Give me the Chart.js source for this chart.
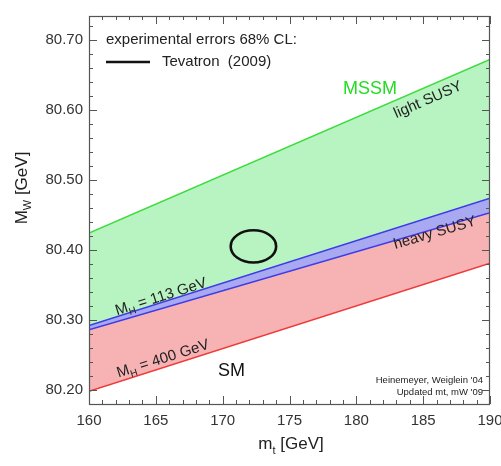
<!DOCTYPE html>
<html>
<head>
<meta charset="utf-8">
<script src="https://cdn.jsdelivr.net/npm/chart.js@4.4.1/dist/chart.umd.min.js"></script>
<style>
html,body{margin:0;padding:0;background:#fff;}
#wrap{width:501px;height:466px;}
</style>
</head>
<body>
<div id="wrap"><canvas id="c" width="501" height="466"></canvas></div>
<script>
// ---- data ----
const mt = [160, 190];                       // top-quark mass range (GeV)
const lightSUSY = [80.424, 80.672];          // MSSM upper edge
const mh113 = [80.292, 80.474];              // SM, M_H = 113 GeV
const heavySUSY = [80.286, 80.453];          // MSSM lower edge
const mh400 = [80.198, 80.381];              // SM, M_H = 400 GeV
const tevCenter = [172.3, 80.405];           // Tevatron (2009) mt, MW
const tevError = [1.7, 0.023];               // 68% CL half-widths
const xTicks = [160, 165, 170, 175, 180, 185, 190];
const yTicks = [80.20, 80.30, 80.40, 80.50, 80.60, 80.70];

const FONT = '"Liberation Sans", Arial, Helvetica, sans-serif';
const pts = arr => mt.map((x, i) => ({x: x, y: arr[i]}));

const annot = {
  id: 'annot',
  afterDatasetsDraw(chart) {
    const ctx = chart.ctx, xs = chart.scales.x, ys = chart.scales.y;
    const a = chart.chartArea;
    const px = v => xs.getPixelForValue(v), py = v => ys.getPixelForValue(v);
    ctx.save();
    // Tevatron ellipse
    ctx.beginPath();
    const cx = px(tevCenter[0]), cy = py(tevCenter[1]);
    const rx = Math.abs(px(tevCenter[0] + tevError[0]) - cx);
    const ry = Math.abs(py(tevCenter[1] + tevError[1]) - cy);
    ctx.ellipse(cx, cy, rx, ry, 0, 0, Math.PI * 2);
    ctx.lineWidth = 2.6; ctx.strokeStyle = '#111'; ctx.stroke();

    // frame
    ctx.lineWidth = 1.2; ctx.strokeStyle = '#555';
    ctx.strokeRect(a.left + 0.5, a.top + 0.5, a.right - a.left - 1, a.bottom - a.top);
    // inward ticks on all four sides
    ctx.lineWidth = 1;
    ctx.beginPath();
    for (let k = 160; k <= 190; k++) {
      const L = (k % 5 === 0) ? 8 : 4, x = Math.round(px(k)) + 0.5;
      ctx.moveTo(x, a.bottom); ctx.lineTo(x, a.bottom - L);
      ctx.moveTo(x, a.top); ctx.lineTo(x, a.top + L);
    }
    for (let k = 9; k <= 36; k++) {
      const v = 80 + k * 0.02;
      if (v < ys.min || v > ys.max) continue;
      const L = (k % 5 === 0) ? 8 : 4, y = Math.round(py(v)) + 0.5;
      ctx.moveTo(a.left, y); ctx.lineTo(a.left + L, y);
      ctx.moveTo(a.right, y); ctx.lineTo(a.right - L, y);
    }
    ctx.stroke();

    // legend-like text
    ctx.fillStyle = '#222';
    ctx.font = '15px ' + FONT;
    ctx.textBaseline = 'middle';
    ctx.textAlign = 'left';
    ctx.fillText('experimental errors 68% CL:', 106, 40);
    ctx.beginPath(); ctx.moveTo(106, 62); ctx.lineTo(150, 62);
    ctx.lineWidth = 2.6; ctx.strokeStyle = '#111'; ctx.stroke();
    ctx.fillText('Tevatron  (2009)', 162, 62);

    // MSSM / SM
    ctx.font = '18px ' + FONT;
    ctx.fillStyle = '#22dd22';
    ctx.fillText('MSSM', 343, 89);
    ctx.fillStyle = '#111';
    ctx.fillText('SM', 218, 371);

    // rotated labels along the band edges
    const ang = arr => Math.atan2(py(arr[1]) - py(arr[0]), px(mt[1]) - px(mt[0]));
    const rot = (txt, x, y, a, sub) => {
      ctx.save(); ctx.translate(x, y); ctx.rotate(a);
      ctx.textAlign = 'left'; ctx.textBaseline = 'middle';
      ctx.font = '15px ' + FONT; ctx.fillStyle = '#222';
      if (sub) {
        const wM = ctx.measureText('M').width, wT = ctx.measureText(txt).width;
        ctx.font = '10px ' + FONT; const wH = ctx.measureText('H').width;
        let xx = -(wM + wH + wT) / 2;
        ctx.font = '15px ' + FONT; ctx.fillText('M', xx, 0); xx += wM;
        ctx.font = '10px ' + FONT; ctx.fillText('H', xx, 5); xx += wH;
        ctx.font = '15px ' + FONT; ctx.fillText(txt, xx, 0);
      } else {
        const w = ctx.measureText(txt).width;
        ctx.fillText(txt, -w / 2, 0);
      }
      ctx.restore();
    };
    rot('light SUSY', 428, 100, ang(lightSUSY), false);
    rot('heavy SUSY', 435, 233, ang(heavySUSY), false);
    rot(' = 113 GeV', 161, 297, ang(mh113), true);
    rot(' = 400 GeV', 163, 359, ang(mh400), true);

    // credits
    ctx.font = '9.5px ' + FONT; ctx.fillStyle = '#222'; ctx.textAlign = 'right';
    ctx.fillText("Heinemeyer, Weiglein '04", 483, 380);
    ctx.fillText("Updated mt, mW '09", 483, 392);
    ctx.restore();
  },
  afterDraw(chart) {
    const ctx = chart.ctx;
    ctx.save();
    ctx.fillStyle = '#222';
    ctx.textBaseline = 'middle';
    // x title: m_t [GeV]
    ctx.font = '17px ' + FONT;
    const t1 = 'm', t3 = ' [GeV]';
    const w1 = ctx.measureText(t1).width, w3 = ctx.measureText(t3).width;
    ctx.font = '11px ' + FONT; const w2 = ctx.measureText('t').width;
    let x0 = 291 - (w1 + w2 + w3) / 2;
    ctx.font = '17px ' + FONT; ctx.textAlign = 'left';
    ctx.fillText(t1, x0, 444);
    ctx.font = '11px ' + FONT; ctx.fillText('t', x0 + w1, 451);
    ctx.font = '17px ' + FONT; ctx.fillText(t3, x0 + w1 + w2, 444);
    // y title: M_W [GeV]
    ctx.translate(22, 188); ctx.rotate(-Math.PI / 2);
    ctx.font = '17px ' + FONT;
    const u1 = 'M', u3 = ' [GeV]';
    const v1 = ctx.measureText(u1).width, v3 = ctx.measureText(u3).width;
    ctx.font = '11px ' + FONT; const v2 = ctx.measureText('W').width;
    let y0 = -(v1 + v2 + v3) / 2;
    ctx.font = '17px ' + FONT; ctx.fillText(u1, y0, 0);
    ctx.font = '11px ' + FONT; ctx.fillText('W', y0 + v1, 6);
    ctx.font = '17px ' + FONT; ctx.fillText(u3, y0 + v1 + v2, 0);
    ctx.restore();
  }
};

new Chart(document.getElementById('c'), {
  type: 'line',
  data: {
    datasets: [
      {label: 'heavy SUSY', data: pts(heavySUSY), borderColor: '#3b3bea', borderWidth: 1.5, pointRadius: 0, fill: false},
      {label: 'M_H = 113 GeV', data: pts(mh113), borderColor: '#3b3bea', borderWidth: 1.5, pointRadius: 0,
        fill: {target: 0}, backgroundColor: '#a9a9f2'},
      {label: 'light SUSY', data: pts(lightSUSY), borderColor: '#3ddc3d', borderWidth: 1.5, pointRadius: 0,
        fill: {target: 1}, backgroundColor: '#b8f3c2'},
      {label: 'M_H = 400 GeV', data: pts(mh400), borderColor: '#f03a3a', borderWidth: 1.5, pointRadius: 0,
        fill: {target: 0}, backgroundColor: '#f7b3b3'}
    ]
  },
  options: {
    responsive: false,
    animation: false,
    layout: {padding: {left: 0, right: 11, top: 16, bottom: 0}},
    plugins: {legend: {display: false}, tooltip: {enabled: false}},
    scales: {
      x: {
        type: 'linear', min: 160, max: 190,
        afterFit: s => { s.height = 62; s.paddingLeft = 0; s.paddingRight = 0; },
        afterBuildTicks: s => { s.ticks = xTicks.map(v => ({value: v})); },
        grid: {display: false, drawTicks: false},
        border: {display: false},
        ticks: {padding: 8, color: '#333', font: {family: FONT, size: 15}, maxRotation: 0, autoSkip: false}
      },
      y: {
        type: 'linear', min: 80.18, max: 80.734,
        afterFit: s => { s.width = 89; s.paddingTop = 0; s.paddingBottom = 0; },
        afterBuildTicks: s => { s.ticks = yTicks.map(v => ({value: v})); },
        grid: {display: false, drawTicks: false},
        border: {display: false},
        ticks: {padding: 6, color: '#333', font: {family: FONT, size: 15}, autoSkip: false,
          callback: v => Number(v).toFixed(2)}
      }
    }
  },
  plugins: [annot]
});
</script>
</body>
</html>
